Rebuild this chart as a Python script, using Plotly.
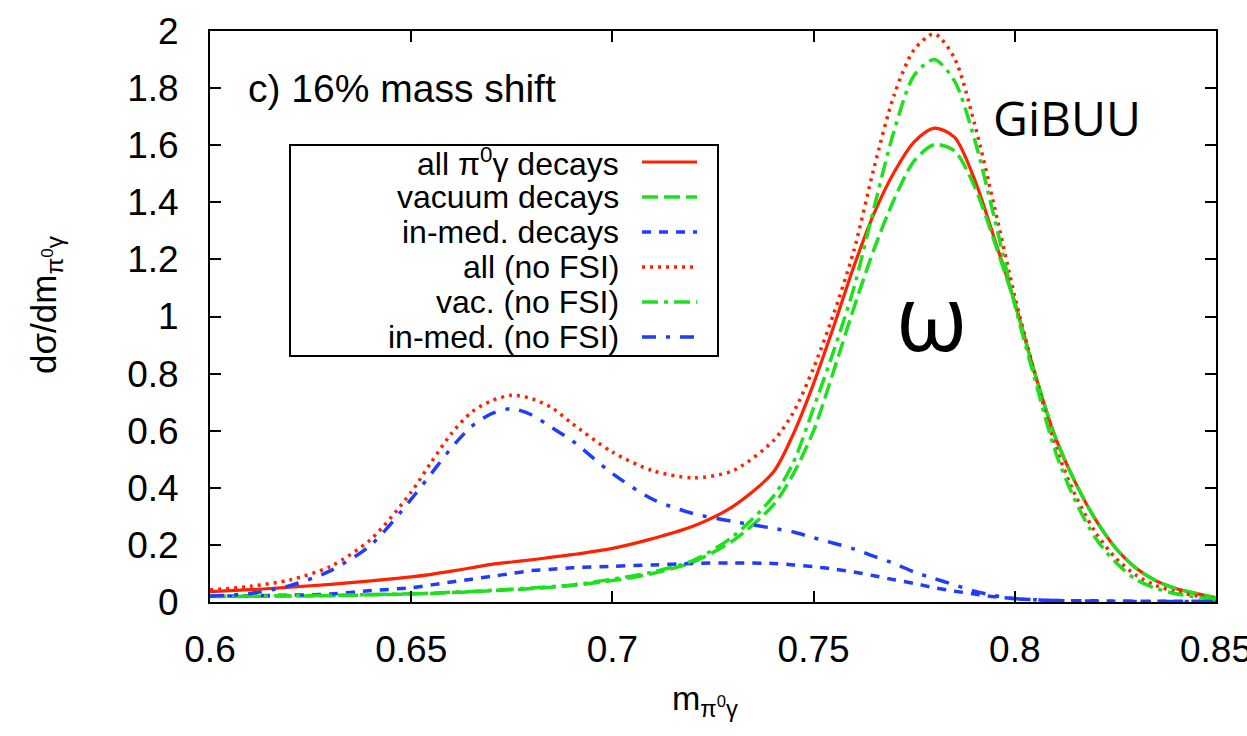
import plotly.graph_objects as go

# ---------------- data ----------------
mass = [0.600, 0.610, 0.620, 0.630, 0.640, 0.650, 0.655, 0.660, 0.665, 0.670,
        0.675, 0.680, 0.685, 0.690, 0.700, 0.710, 0.720, 0.730, 0.740, 0.745,
        0.750, 0.755, 0.760, 0.765, 0.770, 0.775, 0.780, 0.785, 0.790, 0.795,
        0.800, 0.805, 0.810, 0.815, 0.820, 0.825, 0.830, 0.835, 0.840, 0.850]

all_decays = [0.036, 0.043, 0.052, 0.062, 0.074, 0.088, 0.097, 0.108, 0.120, 0.132,
              0.140, 0.148, 0.157, 0.166, 0.188, 0.222, 0.265, 0.335, 0.455, 0.590,
              0.765, 0.965, 1.175, 1.360, 1.505, 1.612, 1.660, 1.628, 1.480, 1.270,
              1.050, 0.800, 0.580, 0.420, 0.290, 0.190, 0.120, 0.075, 0.047, 0.015]

vacuum_decays = [0.019, 0.020, 0.021, 0.022, 0.025, 0.028, 0.030, 0.033, 0.036, 0.040,
                 0.043, 0.047, 0.052, 0.058, 0.075, 0.100, 0.140, 0.215, 0.340, 0.450,
                 0.600, 0.810, 1.030, 1.235, 1.410, 1.545, 1.602, 1.580, 1.455, 1.260,
                 1.045, 0.800, 0.580, 0.420, 0.290, 0.190, 0.120, 0.075, 0.047, 0.015]

inmed_decays = [0.020, 0.022, 0.024, 0.028, 0.040, 0.050, 0.060, 0.070, 0.080, 0.090,
                0.100, 0.110, 0.115, 0.120, 0.125, 0.130, 0.135, 0.137, 0.135, 0.130,
                0.124, 0.115, 0.105, 0.092, 0.078, 0.065, 0.050, 0.038, 0.028, 0.018,
                0.012, 0.008, 0.005, 0.004, 0.004, 0.003, 0.003, 0.003, 0.003, 0.003]

all_nofsi = [0.042, 0.055, 0.078, 0.125, 0.220, 0.385, 0.490, 0.590, 0.665, 0.705,
             0.724, 0.712, 0.680, 0.625, 0.525, 0.460, 0.435, 0.460, 0.565, 0.665,
             0.820, 1.010, 1.230, 1.520, 1.775, 1.935, 1.990, 1.905, 1.675, 1.380,
             1.070, 0.800, 0.550, 0.375, 0.245, 0.155, 0.095, 0.058, 0.036, 0.010]

vac_nofsi = [0.020, 0.021, 0.022, 0.023, 0.026, 0.029, 0.031, 0.034, 0.037, 0.041,
             0.045, 0.049, 0.054, 0.060, 0.080, 0.105, 0.145, 0.230, 0.370, 0.490,
             0.680, 0.880, 1.100, 1.380, 1.650, 1.845, 1.900, 1.825, 1.620, 1.340,
             1.040, 0.780, 0.530, 0.355, 0.225, 0.140, 0.080, 0.048, 0.029, 0.008]

inmed_nofsi = [0.020, 0.030, 0.058, 0.110, 0.200, 0.360, 0.450, 0.540, 0.615, 0.660,
               0.677, 0.655, 0.610, 0.565, 0.450, 0.360, 0.310, 0.282, 0.258, 0.245,
               0.225, 0.206, 0.186, 0.160, 0.135, 0.105, 0.082, 0.060, 0.038, 0.022,
               0.012, 0.008, 0.005, 0.004, 0.003, 0.003, 0.002, 0.002, 0.002, 0.002]

legend_labels = ["all \u03c0<sup>0</sup>\u03b3 decays", "vacuum decays", "in-med. decays",
                 "all (no FSI)", "vac. (no FSI)", "in-med. (no FSI)"]

x_ticks = [0.6, 0.65, 0.7, 0.75, 0.8, 0.85]
x_tick_text = ["0.6", "0.65", "0.7", "0.75", "0.8", "0.85"]
y_ticks = [0, 0.2, 0.4, 0.6, 0.8, 1.0, 1.2, 1.4, 1.6, 1.8, 2.0]
y_tick_text = ["0", "0.2", "0.4", "0.6", "0.8", "1", "1.2", "1.4", "1.6", "1.8", "2"]

# ---------------- styles ----------------
RED = "#ff2200"
GREEN = "#1ee01e"
BLUE = "#1f3cff"
series = [
    (all_decays, RED, "solid", 3.2),
    (vacuum_decays, GREEN, "16px,6px", 3.5),
    (inmed_decays, BLUE, "9px,8px", 3.5),
    (all_nofsi, RED, "3px,5px", 3.5),
    (vac_nofsi, GREEN, "16px,6px,4px,6px", 3.5),
    (inmed_nofsi, BLUE, "14px,10px,4px,10px", 3.5),
]

W, H = 1247, 736
L, R, T, B = 210, 1216, 31, 602


def px(xp):
    return (xp - L) / (R - L)


def py(yp):
    return (B - yp) / (B - T)


fig = go.Figure()
for (vals, col, dash, w), name in zip(series, legend_labels):
    fig.add_trace(go.Scatter(x=mass, y=vals, mode="lines", name=name,
                             line=dict(color=col, dash=dash, width=w,
                                       shape="spline", smoothing=0.8),
                             showlegend=False))

FONT = "Liberation Sans, Arial, sans-serif"
annotations = []
shapes = []

# manual gnuplot-style key (text left, sample right)
shapes.append(dict(type="rect", xref="paper", yref="paper",
                   x0=px(290), x1=px(718), y0=py(145), y1=py(356),
                   line=dict(color="black", width=2), fillcolor="rgba(0,0,0,0)"))
row_y = [162, 197, 232, 267, 302, 337]
for (vals, col, dash, w), name, ry in zip(series, legend_labels, row_y):
    annotations.append(dict(xref="paper", yref="paper", x=px(621), y=py(ry),
                            xanchor="right", yanchor="middle", text=name,
                            showarrow=False, font=dict(family=FONT, size=32, color="black")))
    shapes.append(dict(type="line", xref="paper", yref="paper",
                       x0=px(642), x1=px(697), y0=py(ry), y1=py(ry),
                       line=dict(color=col, dash=dash, width=w)))

annotations += [
    dict(xref="paper", yref="paper", x=px(246), y=py(88), xanchor="left", yanchor="middle",
         text="c) 16% mass shift", showarrow=False,
         font=dict(family=FONT, size=39, color="black")),
    dict(xref="paper", yref="paper", x=px(1067), y=py(118), xanchor="center", yanchor="middle",
         text="GiBUU", showarrow=False, font=dict(family="Open Sans", size=48, color="black")),
    dict(xref="paper", yref="paper", x=px(931), y=py(315), xanchor="center", yanchor="middle",
         text="\u03c9", showarrow=False, font=dict(family="Open Sans", size=92, color="black")),
    dict(xref="paper", yref="paper", x=px(46), y=py(305), xanchor="center", yanchor="middle",
         textangle=-90, text="d\u03c3/dm<sub>\u03c0<sup>0</sup>\u03b3</sub>", showarrow=False,
         font=dict(family=FONT, size=35, color="black")),
    dict(xref="paper", yref="paper", x=px(705), y=py(700), xanchor="center", yanchor="middle",
         text="m<sub>\u03c0<sup>0</sup>\u03b3</sub>", showarrow=False,
         font=dict(family=FONT, size=34, color="black")),
]

axis_common = dict(showline=True, linecolor="black", linewidth=2, mirror="ticks",
                   ticks="inside", ticklen=11, tickwidth=2, tickcolor="black",
                   showgrid=False, zeroline=False, automargin=False,
                   ticklabeloverflow="allow",
                   tickfont=dict(family=FONT, size=37, color="black"))

fig.update_layout(
    width=W, height=H,
    margin=dict(l=L, r=W - R, t=T, b=H - B, autoexpand=False),
    paper_bgcolor="white", plot_bgcolor="white",
    xaxis=dict(range=[0.6, 0.85], tickvals=x_ticks, ticktext=x_tick_text,
               ticklabelstandoff=14, **axis_common),
    yaxis=dict(range=[0, 2], tickvals=y_ticks, ticktext=y_tick_text,
               ticklabelstandoff=22, **axis_common),
    annotations=annotations, shapes=shapes,
    showlegend=False,
)

fig.write_html("out.html")
